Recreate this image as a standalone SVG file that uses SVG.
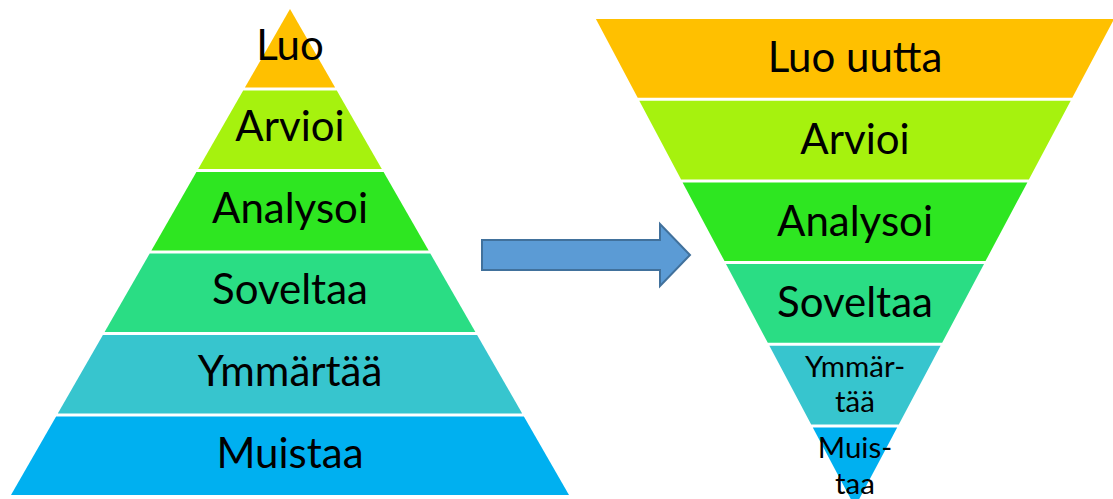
<svg xmlns="http://www.w3.org/2000/svg" width="1113" height="499" viewBox="0 0 1113 499">
  <style>
    .lbl { font-family: Lato, "Open Sans", "Liberation Sans", sans-serif; font-size: 42px; fill: #000; text-anchor: middle; }
    .sm { font-size: 29.5px; }
    .c1 { fill: #FFC000; }
    .c2 { fill: #A6F20E; }
    .c3 { fill: #2EE621; }
    .c4 { fill: #2ADD84; }
    .c5 { fill: #37C5CE; }
    .c6 { fill: #00B0F0; }
    .arrow { fill: #5B9BD5; stroke: #41719C; stroke-width: 2; }
  </style>
  <rect width="1113" height="499" fill="#fff"/>

  <!-- upright pyramid -->
  <g id="left-luo">
    <polygon class="c1" points="290,9 335.1,87.5 244.9,87.5"/>
    <text class="lbl" x="290" y="60">Luo</text>
  </g>
  <g id="left-arvioi">
    <polygon class="c2" points="243.2,90.5 336.8,90.5 381.8,169 198.2,169"/>
    <text class="lbl" x="290" y="141">Arvioi</text>
  </g>
  <g id="left-analysoi">
    <polygon class="c3" points="196.4,172 383.6,172 428.6,250.5 151.4,250.5"/>
    <text class="lbl" x="290" y="222.5">Analysoi</text>
  </g>
  <g id="left-soveltaa">
    <polygon class="c4" points="149.7,253.5 430.3,253.5 475.4,332 104.6,332"/>
    <text class="lbl" x="290" y="304">Soveltaa</text>
  </g>
  <g id="left-ymmartaa">
    <polygon class="c5" points="102.9,335 477.1,335 522.2,413.5 57.8,413.5"/>
    <text class="lbl" x="290" y="385.5">Ymmärtää</text>
  </g>
  <g id="left-muistaa">
    <polygon class="c6" points="56.1,416.5 523.9,416.5 569,495 11,495"/>
    <text class="lbl" x="290" y="467.5">Muistaa</text>
  </g>

  <!-- block arrow between the pyramids -->
  <g id="connectors">
    <path class="arrow" d="M482,240 H660 V224 L690,255 L660,286 V270 H482 Z"/>
  </g>

  <!-- inverted pyramid -->
  <g id="right-luo-uutta">
    <polygon class="c1" points="595.9,19 1114.1,19 1072.3,97.7 637.7,97.7"/>
    <text class="lbl" x="855" y="72">Luo uutta</text>
  </g>
  <g id="right-arvioi">
    <polygon class="c2" points="639.3,100.7 1070.7,100.7 1028.9,179.4 681.1,179.4"/>
    <text class="lbl" x="855" y="153.5">Arvioi</text>
  </g>
  <g id="right-analysoi">
    <polygon class="c3" points="682.6,182.4 1027.4,182.4 985.5,261.1 724.5,261.1"/>
    <text class="lbl" x="855" y="235.5">Analysoi</text>
  </g>
  <g id="right-soveltaa">
    <polygon class="c4" points="726,264.1 984,264.1 942.2,342.8 767.8,342.8"/>
    <text class="lbl" x="855" y="317">Soveltaa</text>
  </g>
  <g id="right-ymmartaa">
    <polygon class="c5" points="769.4,345.8 940.6,345.8 898.8,424.5 811.2,424.5"/>
    <text class="lbl sm" x="855" y="377">Ymmär-</text>
    <text class="lbl sm" x="855" y="412">tää</text>
  </g>
  <g id="right-muistaa">
    <polygon class="c6" points="812.8,427.5 897.2,427.5 855,507"/>
    <text class="lbl sm" x="855" y="458">Muis-</text>
    <text class="lbl sm" x="855" y="494">taa</text>
  </g>
</svg>
